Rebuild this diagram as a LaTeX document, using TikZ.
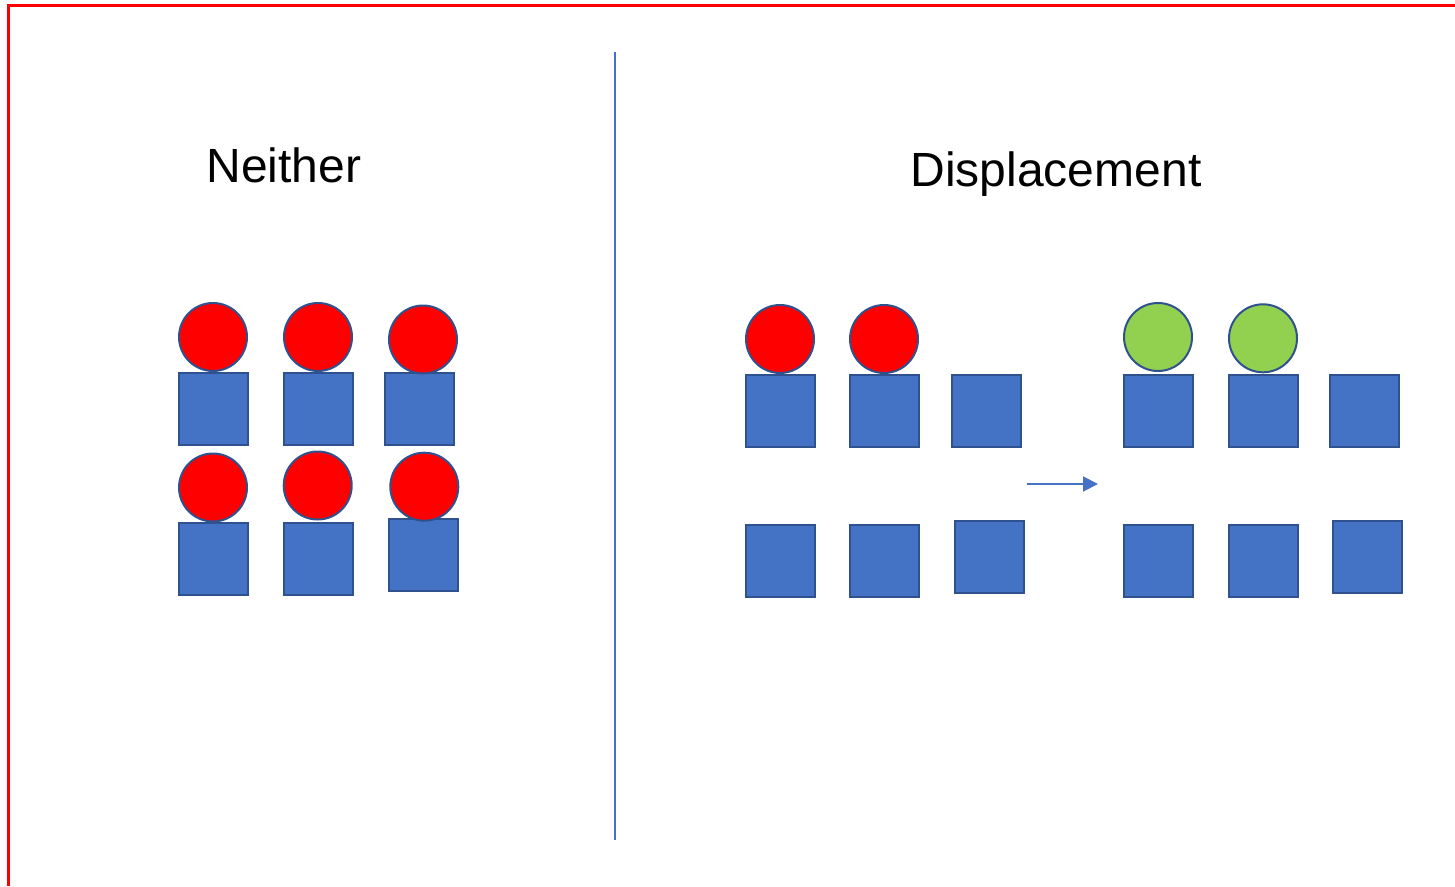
\documentclass[tikz,border=0pt]{standalone}
\usepackage{fontspec}
\setmainfont{Liberation Sans}
\usetikzlibrary{arrows.meta}
\definecolor{boxblue}{HTML}{4472C4}
\definecolor{edgeblue}{HTML}{2F528F}
\definecolor{ballgreen}{HTML}{92D050}
\definecolor{ballred}{HTML}{FF0000}
\tikzset{
  blk/.style={rectangle, draw=edgeblue, fill=boxblue, line width=2pt, minimum width=69pt, minimum height=72pt, inner sep=0pt},
  redball/.style={circle, draw=edgeblue, fill=ballred, line width=2pt, minimum size=68pt, inner sep=0pt},
  greenball/.style={circle, draw=edgeblue, fill=ballgreen, line width=2pt, minimum size=68pt, inner sep=0pt},
  title/.style={font=\fontsize{48}{57}\selectfont, anchor=base, inner sep=0pt},
  divider/.style={draw=boxblue, line width=1.2pt},
  frame/.style={draw=ballred, line width=2.2pt},
  move/.style={draw=boxblue, line width=2pt, -{Triangle[length=15pt,width=15pt]}}
}
\begin{document}
\begin{tikzpicture}[x=1pt,y=-1pt]
\useasboundingbox (0,0) rectangle (1455,886);
% frame
\draw[frame] (8.5,886) -- (8.5,5.5) -- (1455,5.5);
% divider
\coordinate (dtop) at (615,52);
\coordinate (dbot) at (615,840);
\draw[divider] (dtop) -- (dbot);
% titles
\node[title] (t1) at (284,182) {Neither};
\node[title] (t2) at (1056,186) {Displacement};
% Neither: squares
\node[blk] (n11) at (213.5,409) {};
\node[blk] (n12) at (318.5,409) {};
\node[blk] (n13) at (419.5,409) {};
\node[blk] (n21) at (213.5,559) {};
\node[blk] (n22) at (318.5,559) {};
\node[blk] (n23) at (423,555) {};
% Neither: balls
\node[redball] (b11) at (213,337) {};
\node[redball] (b12) at (318,337) {};
\node[redball] (b13) at (423,339.5) {};
\node[redball] (b21) at (213,487.5) {};
\node[redball] (b22) at (317.7,485.5) {};
\node[redball] (b23) at (424.3,486.7) {};
% Displacement, before
\node[blk] (p11) at (780,411) {};
\node[blk] (p12) at (884,411) {};
\node[blk] (p13) at (986,411) {};
\node[blk] (p21) at (780,561) {};
\node[blk] (p22) at (884,561) {};
\node[blk] (p23) at (989,557) {};
\node[redball] (r1) at (780,339) {};
\node[redball] (r2) at (884,339) {};
% arrow
\coordinate (as) at (1027,484);
\coordinate (ae) at (1098,484);
\draw[move] (as) -- (ae);
% Displacement, after
\node[blk] (q11) at (1158,411) {};
\node[blk] (q12) at (1263,411) {};
\node[blk] (q13) at (1364,411) {};
\node[blk] (q21) at (1158,561) {};
\node[blk] (q22) at (1263,561) {};
\node[blk] (q23) at (1367,557) {};
\node[greenball] (g1) at (1158,337) {};
\node[greenball] (g2) at (1263,338.3) {};
\end{tikzpicture}
\end{document}
